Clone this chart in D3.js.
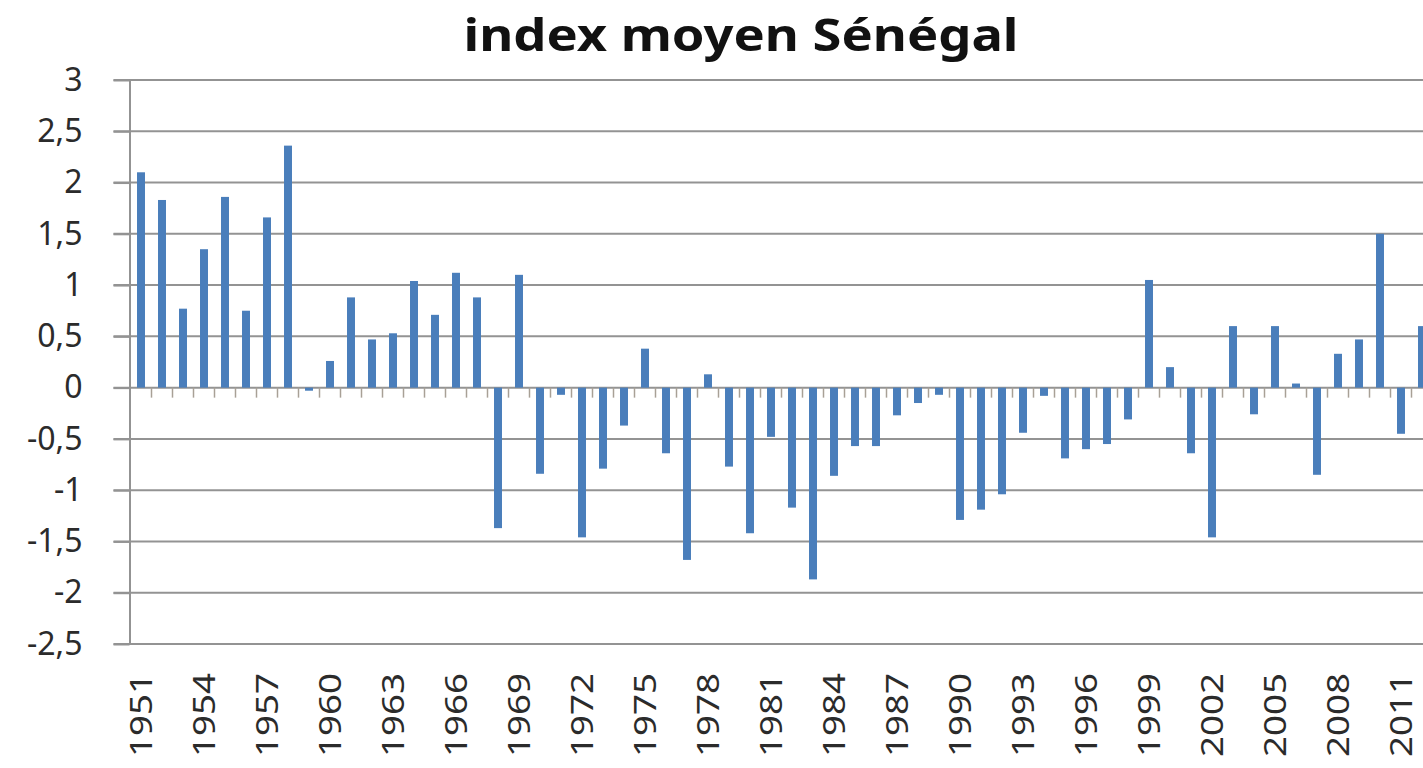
<!DOCTYPE html>
<html>
<head>
<meta charset="utf-8">
<script src="https://cdn.jsdelivr.net/npm/d3@7/dist/d3.min.js"></script>
<style>
  body { margin: 0; background: #fff; }
  svg { display: block; font-family: "Noto Sans", "Open Sans", sans-serif; }
</style>
</head>
<body>
<svg id="graph"></svg>
<script>
// yearly index values
var years = d3.range(1951, 2013);
var values = [
	2.10, 1.83, 0.77, 1.35, 1.86, 0.75, 1.66, 2.36, -0.03, 0.26,
	0.88, 0.47, 0.53, 1.04, 0.71, 1.12, 0.88, -1.37, 1.10, -0.84,
	-0.07, -1.46, -0.79, -0.37, 0.38, -0.64, -1.68, 0.13, -0.77, -1.42,
	-0.48, -1.17, -1.87, -0.86, -0.57, -0.57, -0.27, -0.15, -0.07, -1.29,
	-1.19, -1.04, -0.44, -0.08, -0.69, -0.60, -0.55, -0.31, 1.05, 0.20,
	-0.64, -1.46, 0.60, -0.26, 0.60, 0.04, -0.85, 0.33, 0.47, 1.50,
	-0.45, 0.60
];
var yTicks = [3, 2.5, 2, 1.5, 1, 0.5, 0, -0.5, -1, -1.5, -2, -2.5];
var yTickLabels = ["3", "2,5", "2", "1,5", "1", "0,5", "0", "-0,5", "-1", "-1,5", "-2", "-2,5"];
var xLabelYears = years.filter(function(y) { return (y - 1951) % 3 === 0; });
var title = "index moyen Sénégal";

var data = years.map(function(y, i) { return {year: y, value: values[i]}; });

var W = 1423, H = 768;
var svg = d3.select("#graph").attr("width", W).attr("height", H);

var plotLeft = 129.5, plotTop = 80, plotBottom = 644, step = 21;

var xScale = d3.scaleBand()
	.domain(years)
	.range([plotLeft + 1, plotLeft + 1 + years.length * step])
	.paddingInner(0.62)
	.paddingOuter(0.31);

var yScale = d3.scaleLinear().domain([-2.5, 3]).range([plotBottom, plotTop]);

var gridColor = "#939393";

// horizontal gridlines
svg.append("g")
	.selectAll("line")
	.data(yTicks)
	.enter().append("line")
	.attr("x1", plotLeft - 16)
	.attr("x2", W)
	.attr("y1", function(d) { return yScale(d); })
	.attr("y2", function(d) { return yScale(d); })
	.attr("stroke", gridColor)
	.attr("stroke-width", 2);

// y axis with labels
var yAxis = svg.append("g")
	.attr("transform", "translate(" + plotLeft + ",0)")
	.call(d3.axisLeft(yScale)
		.tickValues(yTicks)
		.tickSize(16)
		.tickSizeOuter(0)
		.tickPadding(31)
		.tickFormat(function(d, i) { return yTickLabels[i]; }));
yAxis.select(".domain").attr("stroke", gridColor).attr("stroke-width", 2);
yAxis.selectAll(".tick line").attr("stroke", gridColor).attr("stroke-width", 2);
yAxis.selectAll(".tick text")
	.attr("font-size", "32px")
	.attr("font-family", "Noto Sans")
	.attr("fill", "#2b2b2b");

// bars
svg.append("g")
	.selectAll("rect")
	.data(data)
	.enter().append("rect")
	.attr("x", function(d) { return xScale(d.year); })
	.attr("y", function(d) { return yScale(Math.max(0, d.value)); })
	.attr("width", xScale.bandwidth())
	.attr("height", function(d) { return Math.abs(yScale(d.value) - yScale(0)); })
	.attr("fill", "#4a7ebb");

// category ticks on the zero line
var y0 = yScale(0);
svg.append("g")
	.selectAll("line")
	.data(years.slice(1))
	.enter().append("line")
	.attr("x1", function(d) { return xScale(d) - xScale.step() * 0.31; })
	.attr("x2", function(d) { return xScale(d) - xScale.step() * 0.31; })
	.attr("y1", y0)
	.attr("y2", y0 + 10)
	.attr("stroke", "#a8a096")
	.attr("stroke-width", 1.5);

// x labels, rotated
svg.append("g")
	.selectAll("text")
	.data(xLabelYears)
	.enter().append("text")
	.attr("transform", function(d) {
		return "translate(" + (xScale(d) + xScale.bandwidth() / 2) + ",673) rotate(-90)";
	})
	.attr("text-anchor", "end")
	.attr("dy", "0.36em")
	.attr("font-size", "30px")
	.attr("textLength", 84)
	.attr("lengthAdjust", "spacingAndGlyphs")
	.attr("fill", "#2b2b2b")
	.text(function(d) { return d; });

// title
svg.append("text")
	.attr("x", 741)
	.attr("y", 51)
	.attr("text-anchor", "middle")
	.attr("font-size", "45px")
	.attr("font-weight", "bold")
	.attr("textLength", 555)
	.attr("lengthAdjust", "spacingAndGlyphs")
	.attr("fill", "#111")
	.text(title);
</script>
</body>
</html>
